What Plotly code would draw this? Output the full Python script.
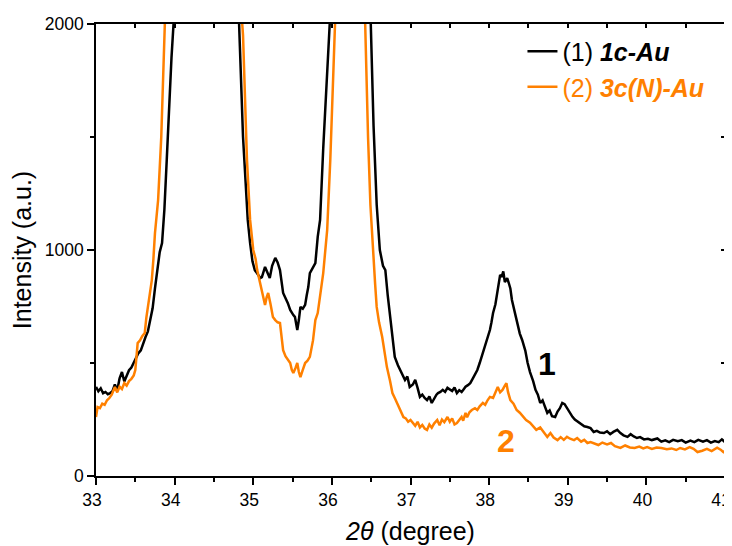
import plotly.graph_objects as go

# ---- data ----
x_1c = [33.00, 33.03, 33.06, 33.09, 33.12, 33.15, 33.18, 33.21, 33.24, 33.27,
        33.30, 33.33, 33.36, 33.39, 33.42, 33.45, 33.48, 33.51, 33.54, 33.57,
        33.60, 33.63, 33.66, 33.69, 33.72, 33.75, 33.78, 33.81, 33.84, 33.87,
        33.90, 33.93, 33.96, 34.00, 34.05, 34.40, 34.75, 34.80, 34.83, 34.87,
        34.90, 34.93, 34.96, 34.99, 35.02, 35.06, 35.09, 35.11, 35.15, 35.18,
        35.21, 35.24, 35.28, 35.31, 35.34, 35.38, 35.41, 35.44, 35.47, 35.49,
        35.51, 35.53, 35.56, 35.58, 35.60, 35.63, 35.66, 35.68, 35.70, 35.72,
        35.75, 35.79, 35.82, 35.85, 35.89, 35.93, 35.98, 36.05, 36.25, 36.44,
        36.49, 36.53, 36.57, 36.61, 36.65, 36.68, 36.71, 36.74, 36.77, 36.80,
        36.84, 36.89, 36.93, 36.96, 36.99, 37.03, 37.06, 37.09, 37.12, 37.15,
        37.18, 37.21, 37.24, 37.27, 37.30, 37.33, 37.35, 37.38, 37.41, 37.44,
        37.47, 37.50, 37.53, 37.56, 37.59, 37.62, 37.65, 37.67, 37.70, 37.73,
        37.76, 37.79, 37.82, 37.85, 37.88, 37.92, 37.95, 37.98, 38.01, 38.03,
        38.05, 38.08, 38.10, 38.12, 38.14, 38.16, 38.18, 38.20, 38.23, 38.25,
        38.27, 38.29, 38.31, 38.34, 38.37, 38.39, 38.42, 38.46, 38.49, 38.52,
        38.56, 38.59, 38.62, 38.65, 38.68, 38.71, 38.74, 38.77, 38.80, 38.84,
        38.87, 38.90, 38.93, 38.96, 38.99, 39.03, 39.06, 39.09, 39.13, 39.17,
        39.21, 39.25, 39.29, 39.33, 39.37, 39.41, 39.46, 39.50, 39.54, 39.58,
        39.63, 39.67, 39.71, 39.76, 39.80, 39.84, 39.88, 39.92, 39.97, 40.02,
        40.07, 40.14, 40.19, 40.24, 40.29, 40.34, 40.40, 40.45, 40.50, 40.56,
        40.61, 40.66, 40.72, 40.77, 40.82, 40.87, 40.92, 40.96, 41.00]
y_1c = [394, 375, 388, 366, 372, 362, 367, 375, 405, 378,
        432, 460, 418, 448, 468, 480, 502, 518, 544, 556,
        588, 615, 640, 695, 742, 830, 925, 990, 1031, 1180,
        1400, 1650, 1850, 2080, 3200, 9000, 2700, 2150, 1900, 1500,
        1300, 1133, 1030, 950, 911, 890, 876, 880, 925, 900,
        876, 930, 965, 945, 911, 810, 790, 765, 735, 721,
        712, 704, 646, 690, 748, 740, 757, 800, 836, 898,
        920, 942, 1058, 1133, 1450, 1750, 2050, 3200, 9000, 2700,
        2000, 1550, 1200, 1000, 930, 911, 800, 704, 610, 527,
        490, 456, 425, 440, 394, 405, 425, 390, 350, 360,
        345, 336, 352, 323, 345, 360, 367, 372, 381, 372,
        390, 381, 376, 392, 367, 380, 372, 381, 395, 402,
        411, 430, 450, 469, 500, 544, 580, 610, 646, 680,
        721, 760, 810, 840, 890, 881, 905, 858, 875, 854,
        830, 779, 745, 704, 660, 630, 602, 555, 500, 460,
        420, 381, 360, 323, 335, 310, 279, 290, 265, 261,
        285, 300, 323, 318, 300, 279, 262, 250, 239, 228,
        220, 217, 212, 195, 200, 192, 190, 198, 185, 195,
        204, 190, 180, 173, 185, 175, 168, 172, 162, 165,
        159, 166, 152, 158, 150, 160, 154, 159, 148, 157,
        150, 160, 152, 159, 148, 155, 150, 162, 150]

x_3c = [33.00, 33.02, 33.05, 33.08, 33.11, 33.14, 33.17, 33.20, 33.24, 33.27,
        33.30, 33.33, 33.36, 33.39, 33.42, 33.45, 33.48, 33.50, 33.53, 33.56,
        33.59, 33.62, 33.64, 33.66, 33.69, 33.71, 33.73, 33.75, 33.79, 33.83,
        33.88, 33.95, 34.35, 34.80, 34.87, 34.92, 34.96, 35.00, 35.03, 35.05,
        35.08, 35.11, 35.13, 35.15, 35.17, 35.19, 35.22, 35.25, 35.28, 35.31,
        35.34, 35.36, 35.38, 35.41, 35.44, 35.47, 35.49, 35.51, 35.54, 35.56,
        35.58, 35.60, 35.63, 35.66, 35.69, 35.72, 35.76, 35.79, 35.82, 35.86,
        35.89, 35.94, 35.98, 36.05, 36.15, 36.38, 36.42, 36.46, 36.49, 36.52,
        36.55, 36.57, 36.60, 36.64, 36.67, 36.70, 36.74, 36.77, 36.80, 36.83,
        36.87, 36.91, 36.94, 36.97, 37.00, 37.03, 37.06, 37.09, 37.12, 37.15,
        37.18, 37.21, 37.24, 37.27, 37.30, 37.34, 37.37, 37.40, 37.43, 37.47,
        37.50, 37.53, 37.56, 37.59, 37.62, 37.65, 37.67, 37.70, 37.72, 37.75,
        37.78, 37.82, 37.85, 37.88, 37.92, 37.95, 37.98, 38.01, 38.05, 38.08,
        38.11, 38.14, 38.17, 38.20, 38.22, 38.24, 38.27, 38.31, 38.35, 38.39,
        38.43, 38.47, 38.52, 38.56, 38.60, 38.65, 38.69, 38.74, 38.78, 38.82,
        38.87, 38.91, 38.95, 38.99, 39.03, 39.08, 39.12, 39.17, 39.21, 39.25,
        39.29, 39.34, 39.39, 39.44, 39.50, 39.55, 39.60, 39.67, 39.73, 39.79,
        39.85, 39.91, 39.96, 40.01, 40.07, 40.13, 40.19, 40.26, 40.32, 40.38,
        40.43, 40.49, 40.55, 40.60, 40.65, 40.71, 40.77, 40.83, 40.90, 40.95,
        40.98, 41.00]
y_3c = [261, 305, 300, 320, 315, 335, 345, 360, 394, 370,
        395, 385, 411, 400, 420, 430, 445, 469, 588, 600,
        620, 633, 700, 748, 800, 867, 960, 1075, 1221, 1500,
        2050, 3400, 9000, 2300, 1950, 1400, 1133, 1000, 960, 911,
        860, 823, 790, 757, 790, 810, 760, 704, 690, 680,
        677, 600, 557, 530, 513, 500, 470, 456, 480, 500,
        460, 438, 470, 500, 510, 527, 600, 690, 721, 810,
        898, 1088, 1400, 2100, 9000, 2600, 2000, 1500, 1200, 1000,
        850, 748, 680, 615, 540, 482, 420, 367, 345, 323,
        290, 261, 255, 240, 248, 234, 222, 240, 215, 226,
        210, 204, 228, 214, 232, 248, 225, 250, 238, 261,
        240, 255, 228, 234, 250, 261, 245, 279, 260, 282,
        292, 300, 292, 308, 323, 315, 335, 350, 345, 372,
        394, 370, 381, 400, 411, 372, 336, 320, 292, 280,
        262, 248, 236, 220, 204, 215, 195, 173, 190, 170,
        159, 172, 160, 173, 165, 159, 168, 152, 160, 146,
        150, 142, 137, 148, 140, 146, 132, 124, 135, 126,
        124, 130, 122, 128, 120, 126, 124, 118, 122, 115,
        124, 118, 128, 120, 106, 112, 120, 110, 125, 115,
        106, 112]

x_ticks = [33, 34, 35, 36, 37, 38, 39, 40, 41]
y_ticks = [0, 1000, 2000]

BLACK = "#000000"
ORANGE = "#FF8000"
FONT = "Liberation Sans, Arial, sans-serif"

fig = go.Figure()
fig.add_trace(go.Scatter(
    x=x_1c, y=y_1c, mode="lines", line=dict(color=BLACK, width=2.5),
    name="(1) <b><i>1c-Au</i></b>"))
fig.add_trace(go.Scatter(
    x=x_3c, y=y_3c, mode="lines", line=dict(color=ORANGE, width=2.5),
    name="<span style='color:#FF8000'>(2) <b><i>3c(N)-Au</i></b></span>"))

# invisible trace carrying the mirrored (top/right) inside-tick axes
fig.add_trace(go.Scatter(x=[33], y=[0], xaxis="x2", yaxis="y2", mode="markers",
                         marker=dict(opacity=0), showlegend=False, hoverinfo="skip"))

fig.add_annotation(x=38.74, y=496, text="<b>1</b>", showarrow=False,
                   font=dict(size=32, color=BLACK, family=FONT))
fig.add_annotation(x=38.22, y=155, text="<b>2</b>", showarrow=False,
                   font=dict(size=32, color=ORANGE, family=FONT))

axis_common = dict(showgrid=False, zeroline=False, linecolor="black", linewidth=1.5,
                   ticks="outside", tickcolor="black", tickwidth=1.5, ticklen=7,
                   automargin=False, ticklabeloverflow="allow",
                   tickfont=dict(size=17.5, color="black", family=FONT))

fig.update_layout(
    width=732, height=538,
    margin=dict(l=88, r=15, t=16, b=70),
    plot_bgcolor="white", paper_bgcolor="white",
    font=dict(family=FONT, color="black"),
    showlegend=True,
    legend=dict(x=0.678, y=0.99, xanchor="left", yanchor="top",
                bgcolor="rgba(0,0,0,0)", font=dict(size=25, family=FONT, color="black"),
                tracegroupgap=0),
    xaxis=dict(range=[33, 41], tickvals=x_ticks, ticktext=[str(v) for v in x_ticks],
               ticklabelshift=-4,
               minor=dict(dtick=0.5, tick0=33, ticks="outside", ticklen=4, tickcolor="black",
                          tickwidth=1.5),
               title=dict(text="<i>2θ</i> (degree)", font=dict(size=25, family=FONT), standoff=14),
               mirror=True, **axis_common),
    yaxis=dict(range=[0, 2000], tickvals=y_ticks, ticktext=[str(v) for v in y_ticks],
               minor=dict(dtick=500, tick0=0, ticks="outside", ticklen=4, tickcolor="black",
                          tickwidth=1.5),
               title=dict(text="Intensity (a.u.)", font=dict(size=25, family=FONT), standoff=10),
               mirror=True, **axis_common),
    xaxis2=dict(overlaying="x", side="top", range=[33, 41], showgrid=False, zeroline=False,
                showline=False, ticks="inside", ticklen=4, tickwidth=1.5, tickcolor="black",
                dtick=0.5, tick0=33, showticklabels=False, anchor="y2", automargin=False),
    yaxis2=dict(overlaying="y", side="right", range=[0, 2000], showgrid=False, zeroline=False,
                showline=False, ticks="inside", ticklen=4, tickwidth=1.5, tickcolor="black",
                dtick=500, tick0=0, showticklabels=False, anchor="x2", automargin=False),
)

fig.write_html("out.html")
